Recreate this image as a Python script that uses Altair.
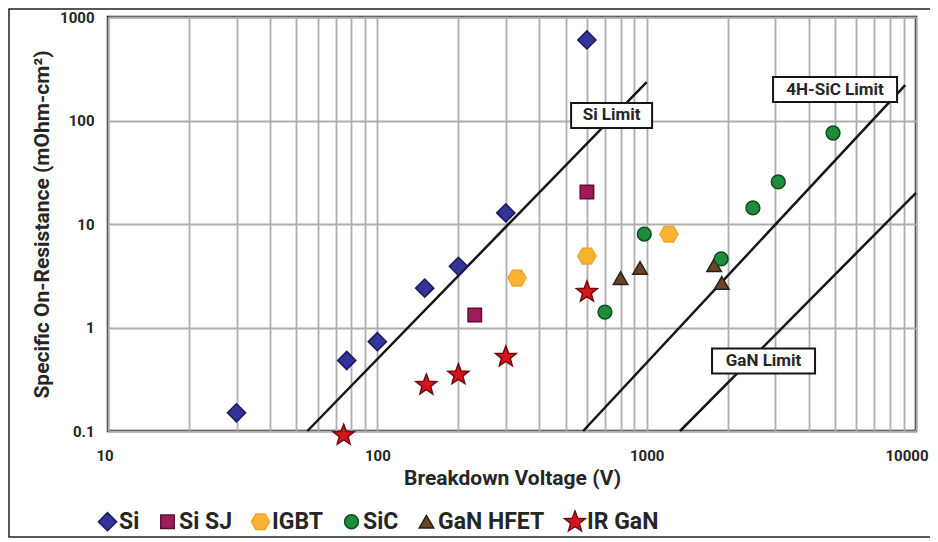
import altair as alt
import pandas as pd

# ---------------- data ----------------
series_order = ["Si", "Si SJ", "IGBT", "SiC", "GaN HFET", "IR GaN"]

si_v = [30, 77, 100, 150, 200, 300, 600]
si_r = [0.15, 0.48, 0.73, 2.4, 3.9, 12.8, 600]

sisj_v = [230, 600]
sisj_r = [1.32, 20.4]

igbt_v = [330, 600, 1210]
igbt_r = [3.0, 4.9, 8.0]

ganhfet_v = [800, 945, 1780, 1900]
ganhfet_r = [3.0, 3.76, 4.0, 2.7]

sic_v = [700, 980, 1890, 2480, 3080, 4920]
sic_r = [1.41, 8.0, 4.6, 14.3, 25.5, 75.7]

irgan_v = [75, 152, 200, 300, 600]
irgan_r = [0.091, 0.278, 0.35, 0.52, 2.2]

limit_names = ["Si Limit", "4H-SiC Limit", "GaN Limit"]
limit_v0 = [55, 581, 1330]
limit_r0 = [0.1, 0.1, 0.1]
limit_v1 = [1000, 9120, 10000]
limit_r1 = [235, 220, 20]

label_v = [741, 5006, 2716]
label_r = [112, 199, 0.475]

x_grid = [10, 20, 30, 40, 50, 60, 70, 80, 90,
          100, 200, 300, 400, 500, 600, 700, 800, 900,
          1000, 2000, 3000, 4000, 5000, 6000, 7000, 8000, 9000, 10000]
y_ticks = [0.1, 1, 10, 100, 1000]

# ---------------- styling ----------------
FONT = "Roboto, Liberation Sans, sans-serif"
TXT = "#262626"

fills = ["#33339A", "#A01A5C", "#F8B234", "#1F8C3B", "#6E4222", "#D5141E"]
strokes = ["#1A1A55", "#5A0E34", "#F2A52A", "#0E4E1E", "#222222", "#6E0A0E"]
sizes = [330, 180, 330, 190, 210, 480]

hexagon = "M-1,0L-0.5,-0.866L0.5,-0.866L1,0L0.5,0.866L-0.5,0.866Z"
star = ("M0,-1L0.247,-0.34L0.951,-0.309L0.399,0.13L0.588,0.809L0,0.42"
        "L-0.588,0.809L-0.399,0.13L-0.951,-0.309L-0.247,-0.34Z")
shapes = ["diamond", "square", hexagon, "circle", "triangle-up", star]

rows = []
for name, vs, rs in [("Si", si_v, si_r), ("Si SJ", sisj_v, sisj_r),
                     ("IGBT", igbt_v, igbt_r), ("GaN HFET", ganhfet_v, ganhfet_r),
                     ("SiC", sic_v, sic_r), ("IR GaN", irgan_v, irgan_r)]:
    for v, r in zip(vs, rs):
        rows.append({"series": name, "V": v, "R": r})
pts = pd.DataFrame(rows)

limits = pd.DataFrame({"name": limit_names, "v0": limit_v0, "r0": limit_r0,
                       "v1": limit_v1, "r1": limit_r1})
labels = pd.DataFrame({"name": limit_names, "V": label_v, "R": label_r})

xscale = alt.Scale(type="log", domain=[10, 10000], nice=False)
yscale = alt.Scale(type="log", domain=[0.1, 1000], nice=False)

xaxis = alt.Axis(values=x_grid, title="Breakdown Voltage (V)",
                 labelExpr="(datum.value==10||datum.value==100||datum.value==1000||datum.value==10000) ? format(datum.value,'d') : ''",
                 labelPadding=17, titlePadding=4, ticks=False, domain=False,
                 grid=True, labelFlush=True, labelFlushOffset=12)
yaxis = alt.Axis(values=y_ticks, title="Specific On-Resistance (mOhm-cm²)",
                 format="~g", labelPadding=14, titlePadding=7, ticks=False,
                 domain=False, grid=True)

frame = alt.Chart(pd.DataFrame({"a": [0]})).mark_rect(
    fillOpacity=0, stroke="#222222", strokeWidth=1.5
).encode(x=alt.value(-99), x2=alt.value(840), y=alt.value(-8), y2=alt.value(520))

base_axes = alt.Chart(pts).mark_point(opacity=0).encode(
    x=alt.X("V:Q", scale=xscale, axis=xaxis),
    y=alt.Y("R:Q", scale=yscale, axis=yaxis),
)

lines = alt.Chart(limits).mark_rule(color="#151515", strokeWidth=2.5).encode(
    x=alt.X("v0:Q", scale=xscale), y=alt.Y("r0:Q", scale=yscale),
    x2="v1:Q", y2="r1:Q",
)

box_w = {"Si Limit": 81, "4H-SiC Limit": 124, "GaN Limit": 103}
box_layers = []
for nm in limit_names:
    hw = box_w[nm] / 2
    path = f"M{-hw},-12.5L{hw},-12.5L{hw},12.5L{-hw},12.5Z"
    box_layers.append(
        alt.Chart(labels[labels["name"] == nm]).mark_point(
            shape=path, size=4, filled=True, fill="white", stroke="#151515",
            strokeWidth=2, opacity=1
        ).encode(x=alt.X("V:Q", scale=xscale), y=alt.Y("R:Q", scale=yscale))
    )

label_text = alt.Chart(labels).mark_text(
    font=FONT, fontSize=17, fontWeight="bold", color=TXT
).encode(x=alt.X("V:Q", scale=xscale), y=alt.Y("R:Q", scale=yscale), text="name:N")

points = alt.Chart(pts).mark_point(filled=True, opacity=1, strokeWidth=1.5).encode(
    x=alt.X("V:Q", scale=xscale),
    y=alt.Y("R:Q", scale=yscale),
    fill=alt.Fill("series:N", scale=alt.Scale(domain=series_order, range=fills),
                  legend=alt.Legend(title=None)),
    stroke=alt.Stroke("series:N", scale=alt.Scale(domain=series_order, range=strokes),
                      legend=alt.Legend(title=None)),
    shape=alt.Shape("series:N", scale=alt.Scale(domain=series_order, range=shapes),
                    legend=alt.Legend(title=None)),
    size=alt.Size("series:N", scale=alt.Scale(type="ordinal", domain=series_order, range=sizes),
                  legend=alt.Legend(title=None)),
)

chart = alt.layer(frame, base_axes, lines, *box_layers, label_text, points).properties(
    width=808, height=414,
    padding={"left": 100, "top": 9, "right": 14, "bottom": 111},
    autosize=alt.AutoSizeParams(type="none"),
).configure_view(
    stroke="#1E1E1E", strokeWidth=2.5
).configure_axis(
    gridColor="#ADADAD", gridWidth=1.8, gridOpacity=1,
    labelFont=FONT, labelFontSize=15, labelFontWeight="bold", labelColor=TXT,
    titleFont=FONT, titleFontSize=21, titleFontWeight="bold", titleColor=TXT,
).configure_legend(
    orient="none", legendX=-12, legendY=493, direction="horizontal",
    labelFont=FONT, labelFontSize=23, labelFontWeight="bold", labelColor=TXT,
    labelOffset=0, columnPadding=16, symbolStrokeWidth=1.5,
)

chart.save("out.html", embed_options={"renderer": "svg", "actions": False})
